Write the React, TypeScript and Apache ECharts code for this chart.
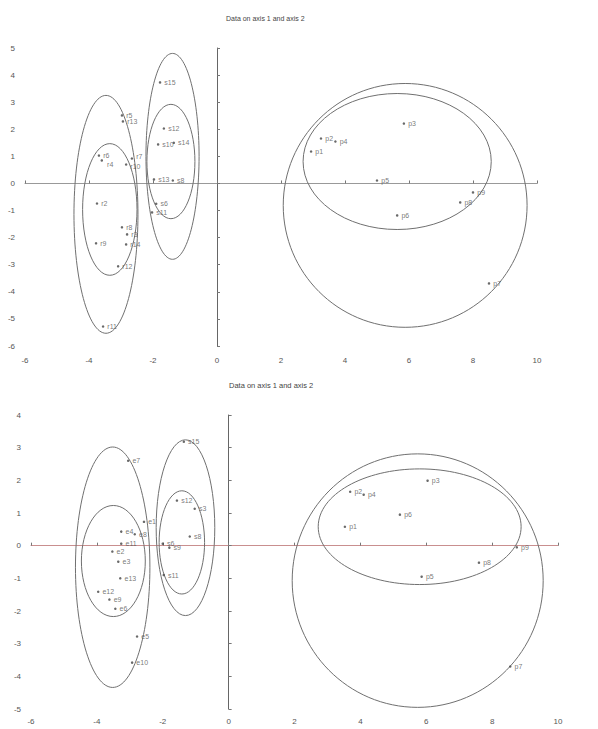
import React, { useEffect, useRef } from "react";
import * as echarts from "echarts";

// ---------- Top chart data ----------
const topPNames = ["p1", "p2", "p4", "p3", "p5", "p6", "p9", "p8", "p7"];
const topPX = [2.94, 3.25, 3.7, 5.84, 5.0, 5.63, 8.0, 7.6, 8.5];
const topPY = [1.18, 1.66, 1.55, 2.21, 0.11, -1.18, -0.33, -0.7, -3.69];

const topRNames = ["r5", "r13", "r6", "r4", "r7", "r10", "r2", "r8", "r3", "r14", "r9", "r12", "r11"];
const topRX = [-2.97, -2.94, -3.69, -3.6, -2.66, -2.84, -3.75, -2.97, -2.81, -2.84, -3.78, -3.09, -3.56];
const topRY = [2.51, 2.29, 1.03, 0.85, 0.92, 0.7, -0.74, -1.62, -1.88, -2.25, -2.21, -3.06, -5.28];

const topSNames = ["s15", "s12", "s10", "s14", "s13", "s8", "s6", "s11"];
const topSX = [-1.78, -1.66, -1.84, -1.35, -1.97, -1.38, -1.9, -2.03];
const topSY = [3.73, 2.03, 1.44, 1.5, 0.15, 0.11, -0.75, -1.07];

// ellipses: centre x, centre y, radius x, radius y
const topEllCX = [-3.47, -3.35, -1.39, -1.44, 5.88, 5.63];
const topEllCY = [-1.14, -0.96, 1.0, 0.81, -0.81, 0.81];
const topEllRX = [1.0, 0.85, 0.83, 0.75, 3.81, 2.94];
const topEllRY = [4.39, 2.43, 3.8, 2.11, 4.5, 2.51];

// ---------- Bottom chart data ----------
const botPNames = ["p3", "p2", "p4", "p6", "p1", "p8", "p9", "p5", "p7"];
const botPX = [6.04, 3.69, 4.1, 5.2, 3.53, 7.6, 8.75, 5.86, 8.55];
const botPY = [1.99, 1.65, 1.56, 0.95, 0.58, -0.52, -0.05, -0.95, -3.7];

const botENames = ["e7", "e1", "e4", "e8", "e11", "e2", "e3", "e13", "e12", "e9", "e6", "e5", "e10"];
const botEX = [-3.05, -2.57, -3.26, -2.85, -3.26, -3.53, -3.35, -3.29, -3.96, -3.62, -3.44, -2.78, -2.93];
const botEY = [2.6, 0.73, 0.43, 0.35, 0.06, -0.18, -0.49, -1.0, -1.41, -1.65, -1.93, -2.78, -3.58];

const botSNames = ["s15", "s12", "s3", "s8", "s6", "s9", "s11"];
const botSX = [-1.36, -1.57, -1.03, -1.18, -2.0, -1.8, -1.97];
const botSY = [3.18, 1.38, 1.13, 0.28, 0.06, -0.06, -0.9];

const botEllCX = [-3.52, -3.5, -1.31, -1.42, 5.74, 5.8];
const botEllCY = [-0.66, -0.47, 0.55, 0.1, -1.07, 0.58];
const botEllRX = [1.13, 0.97, 0.89, 0.69, 3.81, 3.08];
const botEllRY = [3.68, 1.7, 2.69, 1.58, 3.88, 1.77];

// axis ranges
const topXRange = [-6, 10];
const topYRange = [-6, 5];
const botXRange = [-6, 10];
const botYRange = [-5, 4];

const titleText = "Data on axis 1 and axis 2";

// label nudges (style only)
const labelOffsets: Record<string, number[]> = { r4: [1, 4], r7: [0, -2], r10: [0, 2] };

function pts(names: string[], xs: number[], ys: number[], nudge = false) {
  return names.map((n, i) => {
    const item: any = { name: n, value: [xs[i], ys[i]] };
    if (nudge && labelOffsets[n]) item.label = { offset: labelOffsets[n] };
    return item;
  });
}
function ells(cx: number[], cy: number[], rx: number[], ry: number[]) {
  return cx.map((_, i) => [cx[i], cy[i], rx[i], ry[i]]);
}

export default function App() {
  const ref = useRef<HTMLDivElement>(null);
  useEffect(() => {
    document.body.style.margin = "0";
    const chart = echarts.init(ref.current!, undefined, { renderer: "svg" });
    const labelColor = "#555";
    const font = "Arial, 'Liberation Sans', sans-serif";

    const primaryX = (gi: number, r: number[], margin: number) => ({
      gridIndex: gi,
      type: "value",
      min: r[0],
      max: r[1],
      interval: 2,
      position: "bottom",
      axisLine: { show: false, onZero: false },
      axisTick: { show: false },
      splitLine: { show: false },
      axisLabel: { fontSize: 8, color: labelColor, margin, fontFamily: font },
    });
    const zeroX = (gi: number, r: number[], color: string) => ({
      gridIndex: gi,
      type: "value",
      min: r[0],
      max: r[1],
      interval: 2,
      position: "top",
      axisLine: { show: true, onZero: true, lineStyle: { color, width: 1 } },
      axisTick: { show: true, length: 3, lineStyle: { color: "#777" } },
      axisLabel: { show: false },
      splitLine: { show: false },
    });
    const primaryY = (gi: number, r: number[]) => ({
      gridIndex: gi,
      type: "value",
      min: r[0],
      max: r[1],
      interval: 1,
      position: "left",
      axisLine: { show: false, onZero: false },
      axisTick: { show: false },
      splitLine: { show: false },
      axisLabel: { fontSize: 8, color: labelColor, margin: 10, fontFamily: font },
    });
    const zeroY = (gi: number, r: number[]) => ({
      gridIndex: gi,
      type: "value",
      min: r[0],
      max: r[1],
      interval: 1,
      position: "right",
      axisLine: { show: true, onZero: true, lineStyle: { color: "#666", width: 1 } },
      axisTick: { show: true, length: 3, lineStyle: { color: "#777" } },
      axisLabel: { show: false },
      splitLine: { show: false },
    });

    const scatter = (xi: number, yi: number, data: any[]) => ({
      type: "scatter",
      xAxisIndex: xi,
      yAxisIndex: yi,
      symbol: "circle",
      symbolSize: 2.5,
      itemStyle: { color: "#444" },
      label: {
        show: true,
        position: "right",
        distance: 3,
        formatter: "{b}",
        fontSize: 7,
        color: "#555",
        fontFamily: font,
      },
      data,
    });
    const ellipse = (xi: number, yi: number, data: number[][]) => ({
      type: "custom",
      xAxisIndex: xi,
      yAxisIndex: yi,
      silent: true,
      encode: { x: 0, y: 1 },
      renderItem: (params: any, api: any) => {
        const c = api.coord([api.value(0), api.value(1)]);
        const s = api.size([api.value(2), api.value(3)], [api.value(0), api.value(1)]);
        return {
          type: "ellipse",
          shape: { cx: c[0], cy: c[1], rx: s[0], ry: s[1] },
          style: { fill: "none", stroke: "#707070", lineWidth: 1 },
        };
      },
      data,
    });

    chart.setOption({
      animation: false,
      backgroundColor: "#fff",
      title: [
        {
          text: titleText,
          left: 221,
          top: 10,
          textStyle: { fontSize: 7, fontWeight: "normal", color: "#444", fontFamily: font },
        },
        {
          text: titleText,
          left: 224,
          top: 376,
          textStyle: { fontSize: 7.5, fontWeight: "normal", color: "#444", fontFamily: font },
        },
      ],
      grid: [
        { left: 25, top: 48, width: 512, height: 298 },
        { left: 31, top: 415, width: 527, height: 294 },
      ],
      xAxis: [
        primaryX(0, topXRange, 10),
        zeroX(0, topXRange, "#999"),
        primaryX(1, botXRange, 8),
        zeroX(1, botXRange, "#c98f8f"),
      ],
      yAxis: [primaryY(0, topYRange), zeroY(0, topYRange), primaryY(1, botYRange), zeroY(1, botYRange)],
      series: [
        ellipse(0, 0, ells(topEllCX, topEllCY, topEllRX, topEllRY)),
        scatter(0, 0, pts(topPNames, topPX, topPY)),
        scatter(0, 0, pts(topRNames, topRX, topRY, true)),
        scatter(0, 0, pts(topSNames, topSX, topSY)),
        ellipse(2, 2, ells(botEllCX, botEllCY, botEllRX, botEllRY)),
        scatter(2, 2, pts(botPNames, botPX, botPY)),
        scatter(2, 2, pts(botENames, botEX, botEY)),
        scatter(2, 2, pts(botSNames, botSX, botSY)),
      ],
    });
    return () => chart.dispose();
  }, []);
  return <div ref={ref} style={{ width: 598, height: 729 }} />;
}
